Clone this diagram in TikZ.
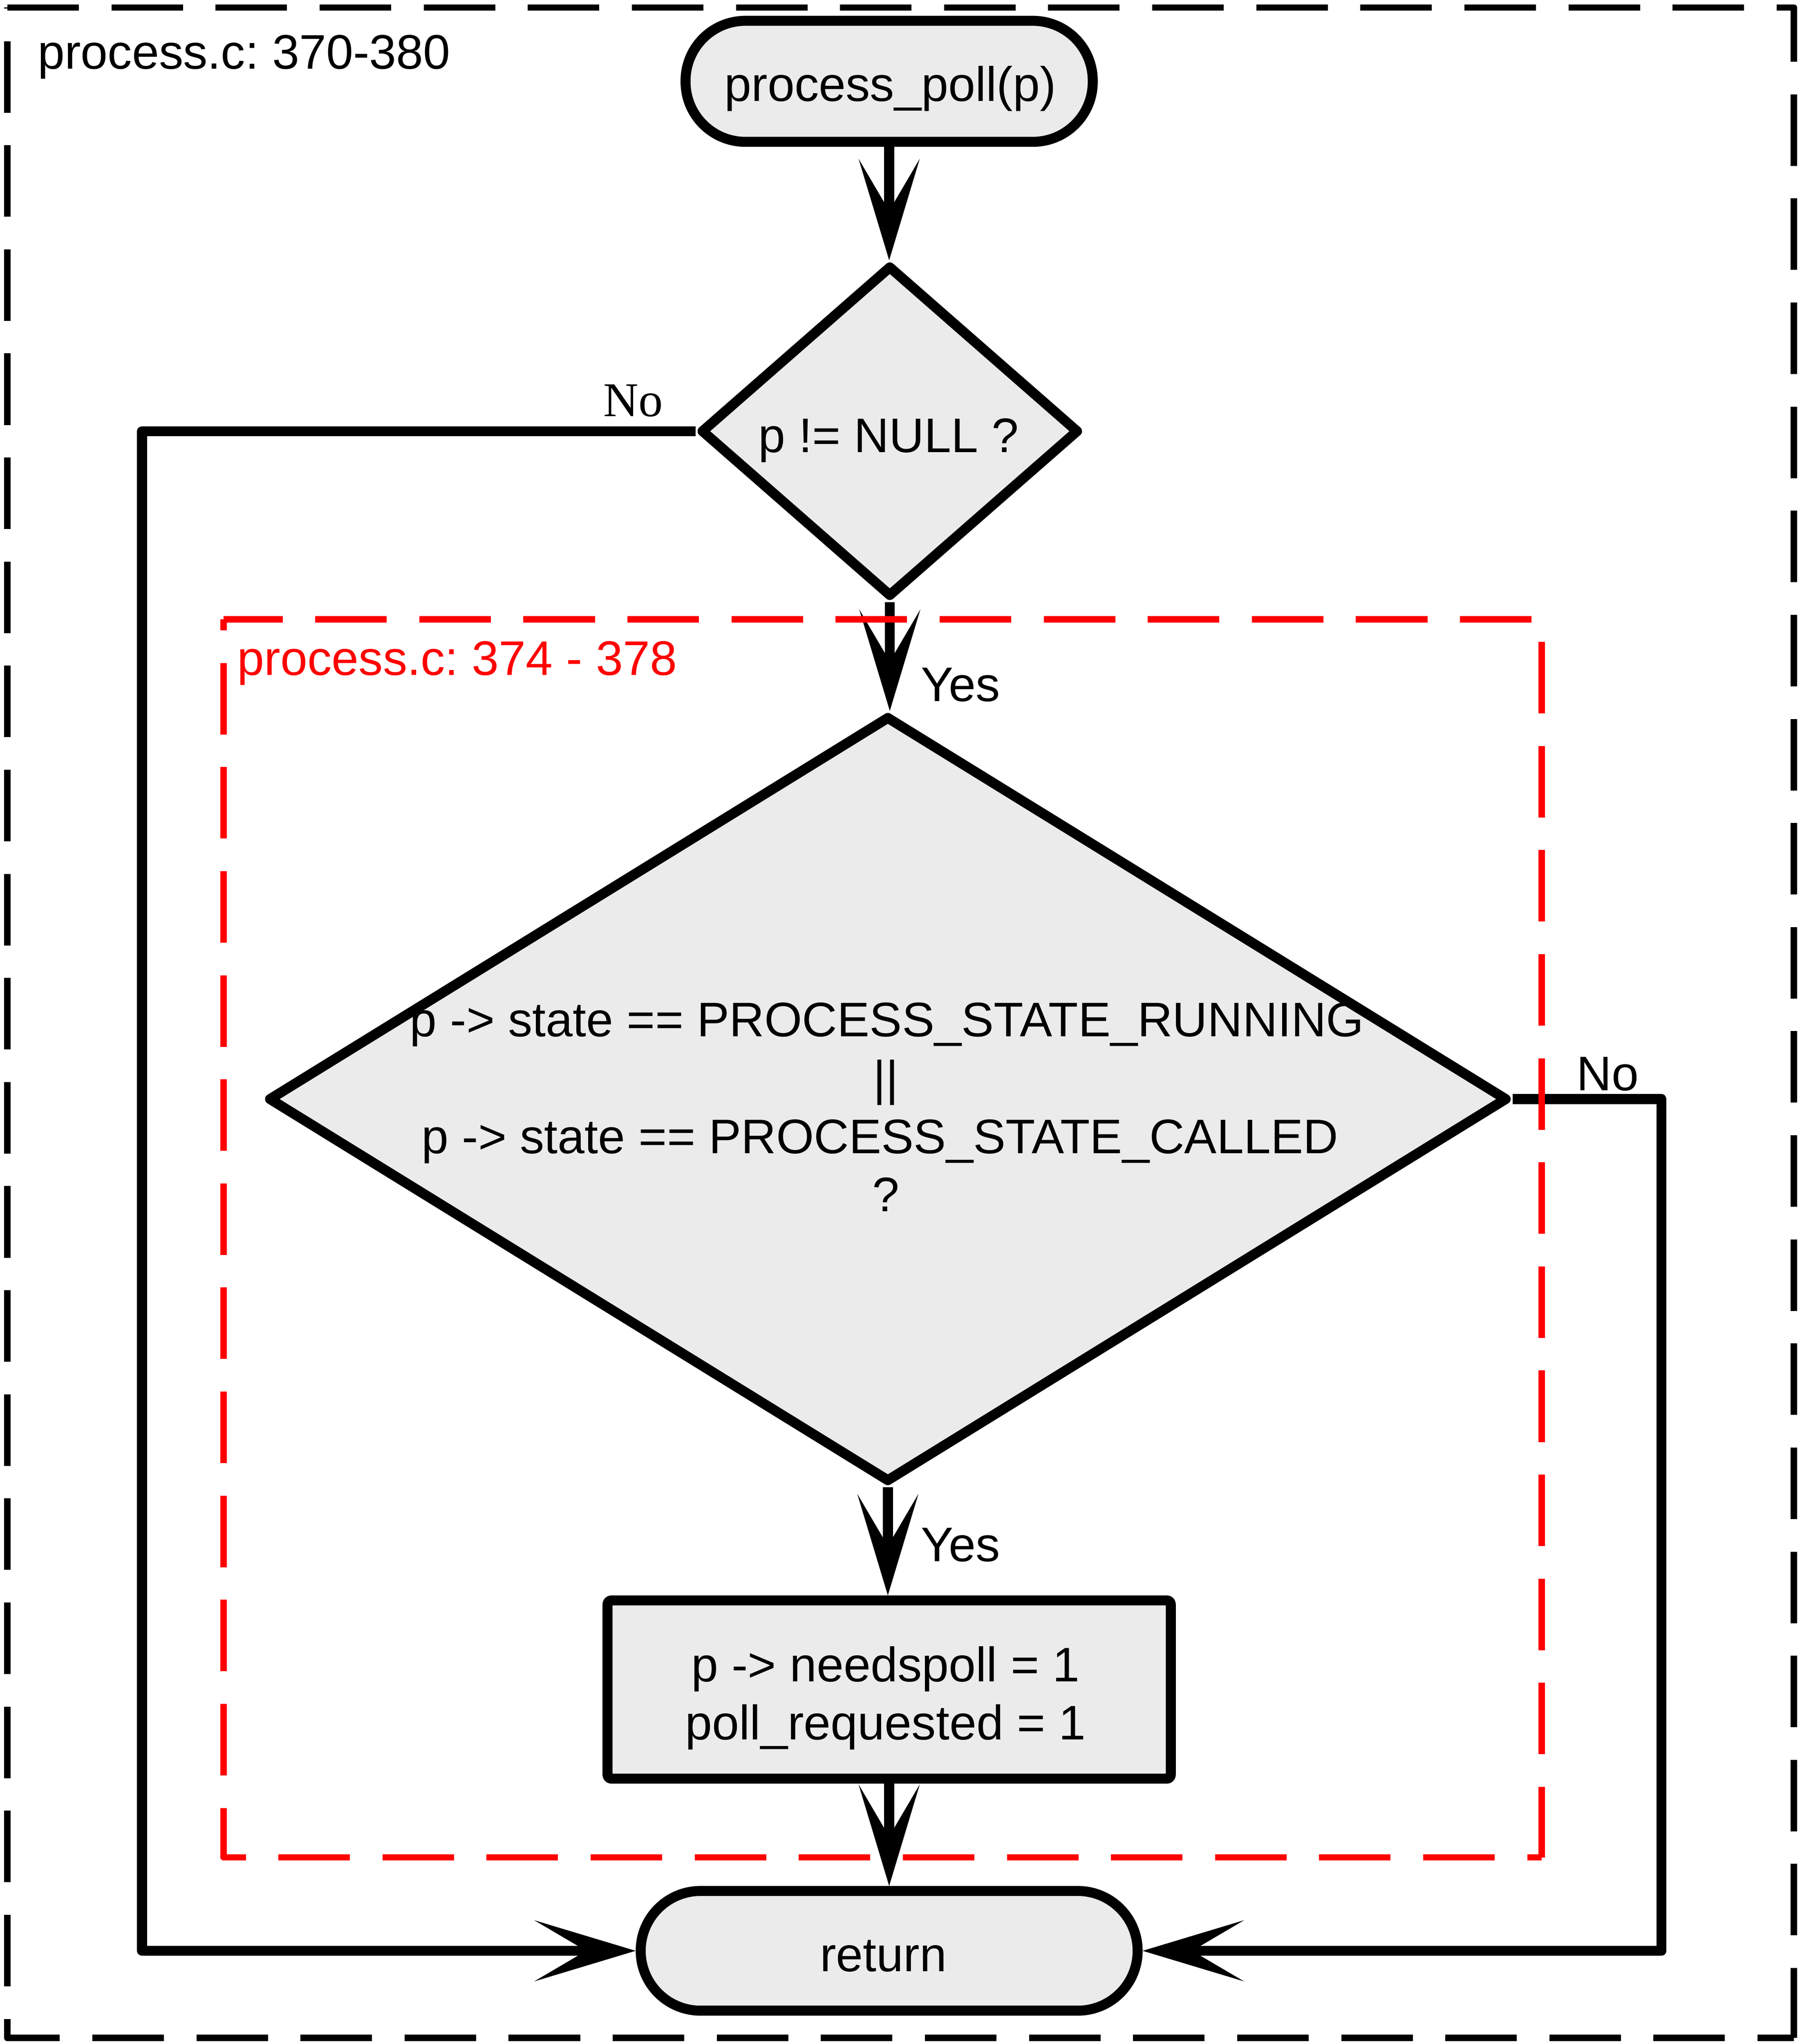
\documentclass[tikz,border=0pt]{standalone}
\usepackage{fontspec}
\setmainfont{Liberation Sans}
\newfontfamily\serifno{Liberation Serif}
\usetikzlibrary{arrows.meta,shapes.geometric}
\definecolor{shapefill}{RGB}{235,235,235}
\definecolor{redline}{RGB}{255,0,0}
\newcommand\diagfont{\fontsize{37.3pt}{44.85pt}\selectfont\frenchspacing}
\frenchspacing
\begin{document}
\begin{tikzpicture}[x=1pt,y=-1pt,
  shapebox/.style={draw=black, fill=shapefill, line width=7.7pt, line join=round, inner sep=0pt, outer sep=3.85pt},
  term/.style={shapebox, rectangle, rounded corners=46pt},
  decision/.style={shapebox, diamond},
  action/.style={shapebox, rectangle, rounded corners=3pt},
  txt/.style={inner sep=0pt, outer sep=0pt, font=\diagfont, anchor=base},
  lbl/.style={txt, anchor=base west},
  flow/.style={line width=7.7pt, line join=round, -{Stealth[length=78pt, width=47pt, inset=40pt, line width=0.5pt]}},
  outerdash/.style={line width=5pt, line join=round, dash pattern=on 55pt off 25pt},
  reddash/.style={outerdash, draw=redline},
]
\useasboundingbox (0,0) rectangle (1383.44,1570.94);

% shapes
\node[term, minimum width=313pt, minimum height=93pt] (start) at (683.5,62.5) {};
\node[decision, minimum width=291pt, minimum height=255pt] (d1) at (684,331.4) {};
\node[decision, minimum width=953pt, minimum height=589pt] (d2) at (682.5,844.7) {};
\node[action, minimum width=433pt, minimum height=137pt] (act) at (683.5,1298.5) {};
\node[term, minimum width=382pt, minimum height=92pt] (ret) at (683.5,1499.3) {};

% texts
\node[lbl] (cap1) at (29,53) {process.c: 370-380};
\node[txt] (tstart) at (684.4,77.8) {process\_poll(p)};
\node[txt] (td1) at (683,347.5) {p != NULL ?};
\node[txt] (td2a) at (681.8,796.7) {p -> state == PROCESS\_STATE\_RUNNING};
\node[txt] (td2b) at (681,841.5) {||};
\node[txt] (td2c) at (676.4,886.4) {p -> state == PROCESS\_STATE\_CALLED};
\node[txt] (td2d) at (681,931.2) {?};
\node[txt] (tact1) at (680.7,1292.5) {p -> needspoll = 1};
\node[txt] (tact2) at (680.7,1337) {poll\_requested = 1};
\node[txt] (tret) at (679,1515.2) {return};
\node[lbl] (yes1) at (708,539) {Yes};
\node[lbl] (yes2) at (708,1200) {Yes};
\node[lbl, font=\diagfont\serifno] (no1) at (464,320) {No};
\node[lbl] (no2) at (1212,838) {No};

% connectors
\coordinate (lc) at (109.2,331.4);
\coordinate (rc) at (1277.2,844.7);
\draw[flow] (start.south) -- (start.south |- d1.north);
\draw[flow] (d1.south) -- (d1.south |- d2.north);
\draw[flow] (d2.south) -- (d2.south |- act.north);
\draw[flow] (act.south) -- (act.south |- ret.north);
\draw[flow] (d1.west) -- (lc) |- (ret.west);
\draw[flow] (d2.east) -- (rc) |- (ret.east);

% red dashed frame
\draw[reddash, dash phase=9.7pt] (172,476) -- (1185,476) -- (1185,1427.5);
\draw[reddash, dash phase=44pt] (1185,1427.5) -- (172,1427.5) -- (172,476);
\node[lbl, text=redline] (cap2) at (182.5,519) {process.c: 374 - 378};

% outer dashed frame
\draw[outerdash] (5.7,5.8) -- (1379,5.8) -- (1379,1566.3);
\draw[outerdash, dash phase=27pt] (1379,1566.3) -- (5.7,1566.3) -- (5.7,5.8);
\end{tikzpicture}
\end{document}
